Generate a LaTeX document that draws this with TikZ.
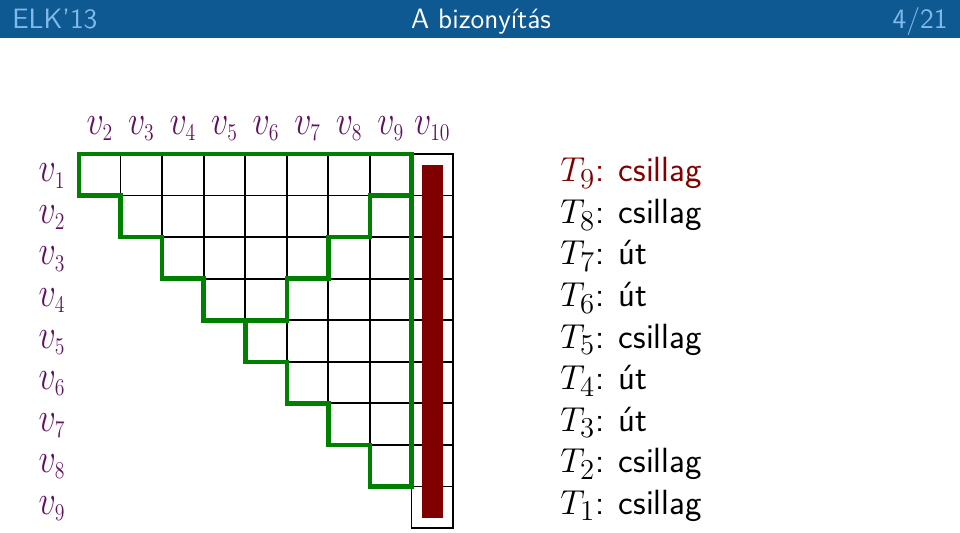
\documentclass[tikz,border=0pt]{standalone}
\usepackage{fontspec}
\usepackage{graphicx}
\usepackage{tikz}

\definecolor{hdrblue}{RGB}{15,89,147}
\definecolor{hdrlight}{RGB}{128,186,234}
\definecolor{vcol}{RGB}{96,16,96}
\definecolor{barred}{RGB}{128,0,0}
\definecolor{treegreen}{RGB}{0,128,0}

\DeclareMathSizes{21}{21}{12}{9}
\DeclareMathSizes{17.5}{17.5}{14}{10}
\newcommand{\vname}[1]{\scalebox{0.82}[1]{$v_{#1}$}}

\begin{document}
\begin{tikzpicture}[x=0.5pt,y=-0.5pt,
    cellline/.style={black,line width=0.9pt},
    treeline/.style={treegreen,line width=2.3pt,line join=miter},
    vlab/.style={text=vcol,font=\fontsize{21}{24}\selectfont,inner sep=0pt},
    tlab/.style={font=\fontsize{17.5}{20}\selectfont\sffamily,inner sep=0pt,anchor=base west},
    hdr/.style={font=\fontsize{14}{17}\selectfont\sffamily,inner sep=0pt}]
  \useasboundingbox (0,0) rectangle (960,532);
  % header
  \fill[hdrblue] (0,0) rectangle (960,38);
  \node[hdr,text=hdrlight,anchor=base west] (short) at (12,28) {ELK'13};
  \node[hdr,text=white,anchor=base] (title) at (481,28) {A bizonyítás};
  \node[hdr,text=hdrlight,anchor=base east] (pageno) at (948,28) {4/21};

  \begin{scope}[shift={(79,154)},x=20.78pt,y=-20.78pt]
    % cells
    \foreach \i in {1,...,9}{
      \foreach \j in {\i,...,9}{
        \draw[cellline] (\j-1,\i-1) rectangle ++(1,1);
      }
    }
    % labels
    \foreach \j in {2,...,10}{
      \node[vlab,anchor=base] (col\j) at (\j-1.5,-0.48) {\vname{\j}};
    }
    \foreach \i in {1,...,9}{
      \node[vlab,anchor=base] (row\i) at (-0.65,\i-0.33) {\vname{\i}};
    }
    % the tree
    \draw[treeline] (0,0) -- (8,0) -- (8,8)
      \foreach \k in {8,...,1}{ -- (\k-1,\k) -- (\k-1,\k-1) } -- cycle;
    \draw[treeline] (8,1) -- (7,1) -- (7,2) -- (6,2) -- (6,3) -- (5,3) -- (5,4) -- (4,4);
    \fill[barred] (8.25,0.27) rectangle (8.75,8.75);
    % types
    \node[tlab,text=barred] (t9) at (11.57,0.67) {$T_9$: csillag};
    \foreach \n/\typ [count=\r from 2] in {8/csillag,7/út,6/út,5/csillag,4/út,3/út,2/csillag,1/csillag}{
      \node[tlab] (t\n) at (11.57,\r-0.33) {$T_{\n}$: \typ};
    }
  \end{scope}
\end{tikzpicture}
\end{document}
